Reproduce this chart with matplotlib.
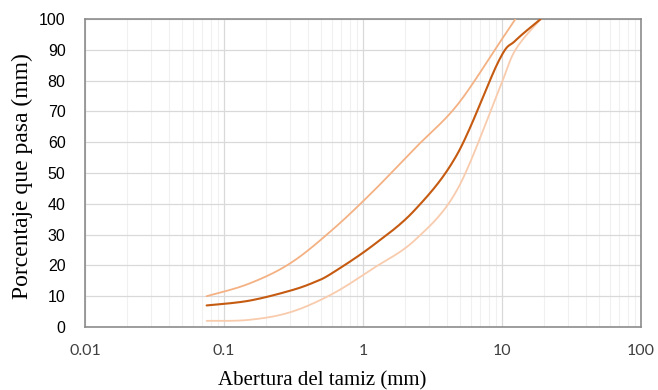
import numpy as np
import matplotlib
matplotlib.use('Agg')
import matplotlib.pyplot as plt
from matplotlib.ticker import FixedLocator, NullFormatter

#DATA
sieveUpper = [0.075, 0.15, 0.3, 0.6, 1.18, 2.36, 4.75, 9.5, 12.5]
passUpper = [10, 14, 20.7, 31.5, 44, 58, 72, 92, 100]

sieveMiddle = [0.075, 0.15, 0.3, 0.45, 0.6, 1.18, 2.36, 4.75, 9.5, 12.5, 19]
passMiddle = [7, 8.5, 11.8, 14.6, 17.5, 26.5, 38, 56, 86.5, 93, 100]

sieveLower = [0.075, 0.15, 0.3, 0.6, 1.18, 2.36, 4.75, 9.5, 12.5, 19]
passLower = [2, 2.3, 4.8, 10.7, 19, 28.2, 44.5, 77, 90, 100]

xTicks = [0.01, 0.1, 1, 10, 100]
xTickLabels = ['0.01', '0.1', '1', '10', '100']
yTicks = [0, 10, 20, 30, 40, 50, 60, 70, 80, 90, 100]

#COLOURS
colUpper = '#F4B183'
colMiddle = '#C55A11'
colLower = '#F8CBAD'


def smoothLine(xs, ys, n=30):
    #Excel-like smoothed line: Catmull-Rom through the points in (log x, y)
    u = np.log10(xs)
    v = np.array(ys, dtype=float)
    P = np.column_stack((u, v))
    P = np.vstack((P[0], P, P[-1]))      #repeat end points
    out = []
    for i in range(1, len(P) - 2):
        p0, p1, p2, p3 = P[i - 1], P[i], P[i + 1], P[i + 2]
        c1 = p1 + (p2 - p0) / 6.0
        c2 = p2 - (p3 - p1) / 6.0
        t = np.linspace(0, 1, n)[:, None]
        seg = ((1 - t) ** 3) * p1 + 3 * ((1 - t) ** 2) * t * c1 + 3 * (1 - t) * t ** 2 * c2 + t ** 3 * p2
        out.append(seg if i == 1 else seg[1:])
    out = np.vstack(out)
    return 10 ** out[:, 0], out[:, 1]


fig = plt.figure(figsize=(6.58, 3.90), dpi=100)
ax = fig.add_axes([85 / 658, 1 - 327 / 390, (641 - 85) / 658, (327 - 19) / 390])

ax.set_xscale('log')
ax.set_xlim(0.01, 100)
ax.set_ylim(0, 100)

#gridlines
ax.xaxis.set_major_locator(FixedLocator(xTicks))
ax.xaxis.set_minor_locator(FixedLocator([m * 10.0 ** e for e in range(-2, 2) for m in range(2, 10)]))
ax.xaxis.set_minor_formatter(NullFormatter())
ax.set_yticks(yTicks)
ax.grid(which='major', axis='both', color='#D9D9D9', lw=0.9)
ax.grid(which='minor', axis='x', color='#F0F0F0', lw=0.8)
ax.set_axisbelow(True)

#curves
for xs, ys, c, lw in ((sieveLower, passLower, colLower, 1.3),
                      (sieveUpper, passUpper, colUpper, 1.3),
                      (sieveMiddle, passMiddle, colMiddle, 1.5)):
    sx, sy = smoothLine(xs, ys)
    ax.plot(sx, sy, color=c, lw=lw, solid_capstyle='round', zorder=3)

#frame
for s in ax.spines.values():
    s.set_color('#8C8C8C')
    s.set_linewidth(1.2)

ax.tick_params(which='both', length=0)
ax.set_xticklabels(xTickLabels, fontfamily='Lato', fontsize=11.5, color='#404040')
ax.tick_params(axis='x', pad=12)
ax.tick_params(axis='y', pad=14)
for lab in ax.get_yticklabels():
    lab.set_fontfamily('Liberation Sans')
    lab.set_fontsize(11.5)

ax.set_xlabel('Abertura del tamiz (mm)', fontfamily='Liberation Serif', fontsize=15)
ax.set_ylabel('Porcentaje que pasa (mm)', fontfamily='Liberation Serif', fontsize=17)
ax.xaxis.set_label_coords(0.426, -0.145)
ax.yaxis.set_label_coords(-0.094, 0.49)

fig.savefig('out.png', dpi=100)
